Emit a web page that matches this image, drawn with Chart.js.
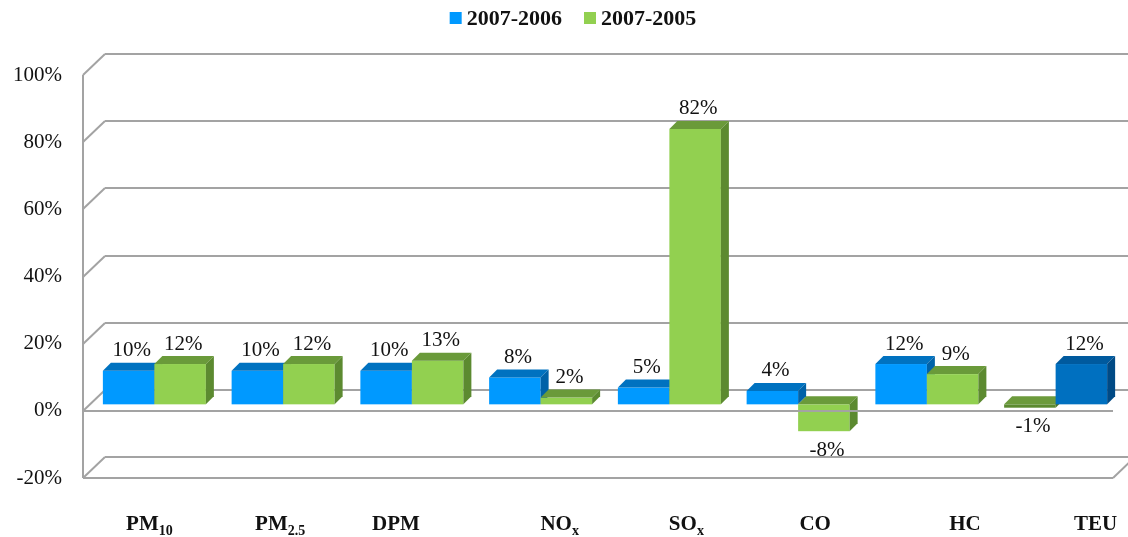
<!DOCTYPE html>
<html>
<head>
<meta charset="utf-8">
<script src="https://cdn.jsdelivr.net/npm/chart.js@4.4.1/dist/chart.umd.min.js"></script>
<style>
  html, body { margin: 0; padding: 0; background: #ffffff; }
  #wrap { position: relative; width: 1128px; height: 537px; }
</style>
</head>
<body>
<div id="wrap"><canvas id="chart"></canvas></div>
<script>
// Category names, split into the main text and the subscript part
const categoryNames = ['PM', 'PM', 'DPM', 'NO', 'SO', 'CO', 'HC', 'TEU'];
const categorySubs  = ['10', '2.5', '', 'x', 'x', '', '', ''];

// Percentage change per pollutant
const seriesNames = ['2007-2006', '2007-2005'];
const change0706 = [10, 10, 10, 8, 5, 4, 12, -1];
const change0705 = [12, 12, 13, 2, 82, -8, 9, 12];

// Value axis ticks (percent)
const yTicks = [-20, 0, 20, 40, 60, 80, 100];

const SERIF = "'Liberation Serif', 'Times New Roman', serif";

function repeat(c, n) { return Array(n).fill(c); }

// Pseudo-3D bar renderer: back wall, floor, extruded bars, value and category labels
const bars3d = {
  id: 'bars3d',
  beforeDatasetsDraw(chart, args, o) {
    const { ctx, chartArea: a, scales: { x, y } } = chart;
    const line = (x1, y1, x2, y2) => {
      ctx.beginPath(); ctx.moveTo(x1, y1); ctx.lineTo(x2, y2); ctx.stroke();
    };
    const W = o.wall, G = o.gap, D = o.depth;
    ctx.save();
    ctx.lineCap = 'butt';
    ctx.strokeStyle = o.gridColor;
    ctx.lineWidth = o.gridWidth;

    // back wall lines with the receding edge on the left
    yTicks.forEach(v => {
      const py = Math.round(y.getPixelForValue(v));
      line(a.left, py, a.left + W.dx, py + W.dy);
      line(a.left + W.dx, py + W.dy, a.right + W.dx, py + W.dy);
    });
    // front vertical axis
    line(a.left, Math.round(y.getPixelForValue(yTicks[yTicks.length - 1])),
         a.left, Math.round(y.getPixelForValue(yTicks[0])));

    // bars, left to right so nearer faces cover hidden ones
    const metas = chart.data.datasets.map((d, i) => chart.getDatasetMeta(i));
    const n = chart.data.labels.length;
    for (let i = 0; i < n; i++) {
      metas.forEach((meta, d) => {
        const el = meta.data[i];
        const ds = chart.data.datasets[d];
        const x0 = el.x - el.width / 2 + G.dx;
        const x1 = el.x + el.width / 2 + G.dx;
        const yt = Math.min(el.y, el.base) + G.dy;
        const yb = Math.max(el.y, el.base) + G.dy;
        ctx.fillStyle = ds.backgroundColor[i];
        ctx.fillRect(x0, yt, x1 - x0, yb - yt);
        ctx.fillStyle = ds.topColor[i];
        ctx.beginPath();
        ctx.moveTo(x0, yt); ctx.lineTo(x0 + D.dx, yt + D.dy);
        ctx.lineTo(x1 + D.dx, yt + D.dy); ctx.lineTo(x1, yt);
        ctx.closePath(); ctx.fill();
        ctx.fillStyle = ds.sideColor[i];
        ctx.beginPath();
        ctx.moveTo(x1, yt); ctx.lineTo(x1 + D.dx, yt + D.dy);
        ctx.lineTo(x1 + D.dx, yb + D.dy); ctx.lineTo(x1, yb);
        ctx.closePath(); ctx.fill();
      });
    }

    // front edges of the floor (0%) and base (-20%)
    ctx.strokeStyle = o.gridColor;
    [0, -20].forEach(v => {
      const py = Math.round(y.getPixelForValue(v));
      line(a.left, py, a.right, py);
    });
    const pyb = Math.round(y.getPixelForValue(-20));
    line(a.right, pyb, a.right + W.dx, pyb + W.dy);

    // value labels
    ctx.font = o.valueFont;
    ctx.fillStyle = '#111111';
    ctx.textAlign = 'center';
    ctx.textBaseline = 'middle';
    metas.forEach((meta, d) => {
      const ds = chart.data.datasets[d];
      meta.data.forEach((el, i) => {
        const v = ds.data[i];
        const cx = el.x + G.dx + 3;
        const yt = Math.min(el.y, el.base) + G.dy;
        const yb = Math.max(el.y, el.base) + G.dy;
        const ty = v >= 0 ? yt - 20 : yb + 19;
        ctx.fillText(v + '%', cx, ty);
      });
    });

    // category labels with subscripts
    ctx.textAlign = 'left';
    ctx.textBaseline = 'alphabetic';
    for (let i = 0; i < n; i++) {
      ctx.font = o.catFont;
      const wMain = ctx.measureText(categoryNames[i]).width;
      ctx.font = o.subFont;
      const wSub = categorySubs[i] ? ctx.measureText(categorySubs[i]).width : 0;
      const cx = x.getPixelForValue(i) + o.catNudge[i];
      const left = cx - (wMain + wSub) / 2;
      ctx.font = o.catFont;
      ctx.fillText(categoryNames[i], left, o.catBaseline);
      if (categorySubs[i]) {
        ctx.font = o.subFont;
        ctx.fillText(categorySubs[i], left + wMain, o.catBaseline + 5);
      }
    }

    // series key above the plot
    const L = o.legend;
    ctx.font = L.font;
    ctx.textBaseline = 'middle';
    const items = chart.data.datasets.map(ds => ({
      text: ds.label, color: ds.backgroundColor[0], w: ctx.measureText(ds.label).width
    }));
    const total = items.reduce((s, it) => s + L.box + L.boxGap + it.w, 0) + L.itemGap * (items.length - 1);
    let lx = L.centerX - total / 2;
    items.forEach(it => {
      ctx.fillStyle = it.color;
      ctx.fillRect(lx, L.y - L.box / 2, L.box, L.box);
      ctx.fillStyle = '#111111';
      ctx.fillText(it.text, lx + L.box + L.boxGap, L.y + 1);
      lx += L.box + L.boxGap + it.w + L.itemGap;
    });

    ctx.restore();
    return false;
  }
};

new Chart(document.getElementById('chart'), {
  type: 'bar',
  data: {
    labels: categoryNames.map((c, i) => c + categorySubs[i]),
    datasets: [
      {
        label: seriesNames[0],
        data: change0706,
        backgroundColor: [...repeat('#0099ff', 7), '#5c8a30'],
        topColor:        [...repeat('#0072c0', 7), '#6c9a3c'],
        sideColor:       [...repeat('#0062a8', 7), '#4d7627']
      },
      {
        label: seriesNames[1],
        data: change0705,
        backgroundColor: [...repeat('#92d050', 7), '#0070c0'],
        topColor:        [...repeat('#6a9a3a', 7), '#005a9e'],
        sideColor:       [...repeat('#5c8a30', 7), '#004a85']
      }
    ]
  },
  plugins: [bars3d],
  options: {
    responsive: true,
    maintainAspectRatio: false,
    animation: false,
    layout: { padding: { top: 75, left: 0, right: 15, bottom: 59 } },
    datasets: { bar: { categoryPercentage: 0.8, barPercentage: 1.0 } },
    scales: {
      x: { display: false },
      y: {
        min: -20, max: 100,
        afterBuildTicks: s => { s.ticks = yTicks.map(v => ({ value: v })); },
        afterFit: s => { s.width = 83; },
        grid: { display: false, drawTicks: false },
        border: { display: false },
        ticks: {
          padding: 21,
          color: '#111111',
          font: { family: SERIF, size: 21 },
          callback: v => v + '%'
        }
      }
    },
    plugins: {
      legend: { display: false },
      tooltip: { enabled: false },
      bars3d: {
        gridColor: '#a3a3a3',
        gridWidth: 2,
        wall:  { dx: 22, dy: -21 },
        gap:   { dx: 7, dy: -6.5 },
        depth: { dx: 8, dy: -8 },
        valueFont: "21px " + SERIF,
        catFont: "bold 21px " + SERIF,
        subFont: "bold 14px " + SERIF,
        catBaseline: 530,
        catNudge: [2, 4, -9, 26, 24, 24, 45, 47],
        legend: { font: "bold 22px " + SERIF, centerX: 573, y: 18, box: 12, boxGap: 5, itemGap: 22 }
      }
    }
  }
});
</script>
</body>
</html>
